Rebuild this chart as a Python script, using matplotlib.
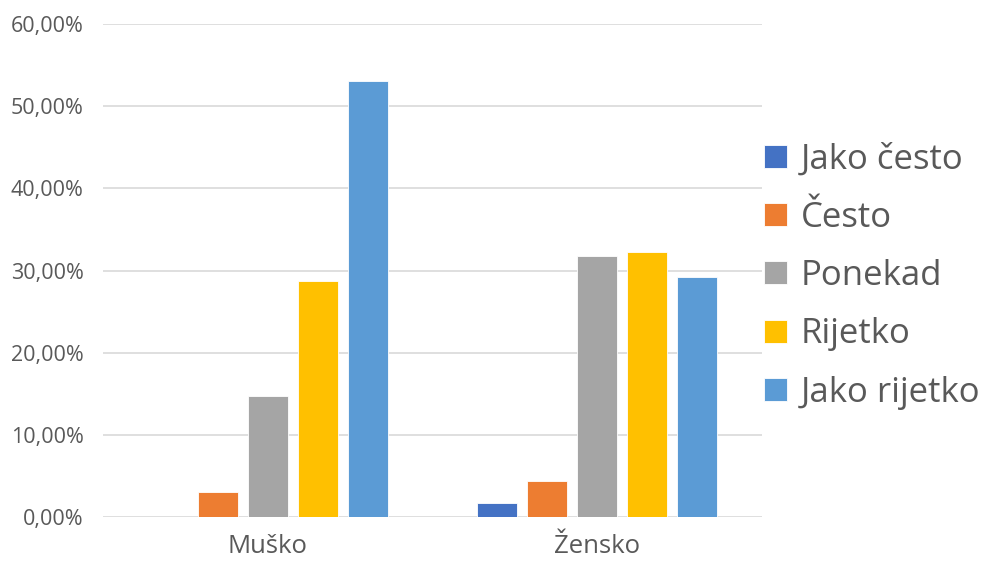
import matplotlib
matplotlib.use("Agg")
import matplotlib.pyplot as plt
import numpy as np
from matplotlib.ticker import FuncFormatter
from matplotlib.patches import Patch

categories = ["Muško", "Žensko"]
series_names = ["Jako često", "Često", "Ponekad", "Rijetko", "Jako rijetko"]
jako_cesto = [0.0, 1.8]
cesto = [3.1, 4.4]
ponekad = [14.7, 31.8]
rijetko = [28.7, 32.3]
jako_rijetko = [53.1, 29.2]
colors = ["#4472C4", "#ED7D31", "#A5A5A5", "#FFC000", "#5B9BD5"]
yticks = [0, 10, 20, 30, 40, 50, 60]

plt.rcParams['font.family'] = ['Open Sans', 'DejaVu Sans']

fig = plt.figure(figsize=(9.87, 5.69), dpi=100)
ax = fig.add_axes([103/987, 1-517.3/569, (762-103)/987, (517.3-24)/569])

data = [jako_cesto, cesto, ponekad, rijetko, jako_rijetko]
x = np.arange(len(categories))
step = 0.1517
width = 0.121
for i, (vals, c) in enumerate(zip(data, colors)):
    ax.bar(x + (i - 2) * step, vals, width=width, color=c, edgecolor="white",
           linewidth=0.6, zorder=3, label=series_names[i])

ax.set_xlim(-0.5, 1.5)
ax.set_ylim(0, 60)
ax.set_yticks(yticks)
ax.yaxis.set_major_formatter(FuncFormatter(lambda v, p: f"{v:.2f}".replace(".", ",") + "%"))
ax.grid(axis="y", color="#D9D9D9", linewidth=1.2, zorder=0)
for s in ax.spines.values():
    s.set_visible(False)
ax.tick_params(axis="y", length=0, pad=14, labelsize=15.5, labelcolor="#595959")
ax.tick_params(axis="x", length=0, pad=12, labelsize=18.5, labelcolor="#595959")
ax.set_xticks(x)
ax.set_xticklabels(categories)

handles = [Patch(facecolor=c, edgecolor="white", linewidth=0.6) for c in colors]
leg = fig.legend(handles, series_names, loc="center left", bbox_to_anchor=(764/987, 1-276/569),
                 frameon=False, fontsize=25, labelcolor="#595959",
                 handlelength=0.65, handleheight=0.65, handletextpad=0.4,
                 labelspacing=0.7, borderaxespad=0, borderpad=0)

fig.savefig("out.png", dpi=100)
